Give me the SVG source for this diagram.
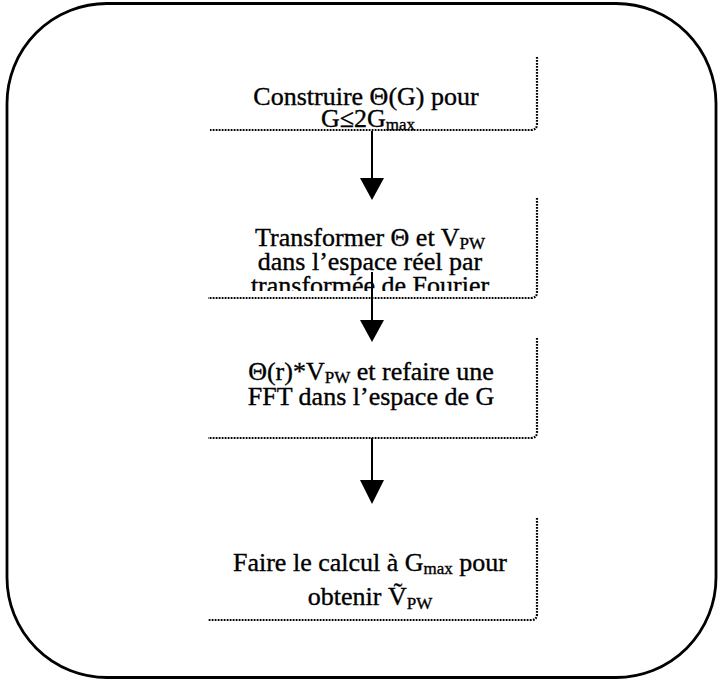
<svg xmlns="http://www.w3.org/2000/svg" width="718" height="681" viewBox="0 0 718 681">
<style>
.frame{fill:none;stroke:#000;stroke-width:2.8}
.box{fill:none;stroke:#000;stroke-width:2.2;stroke-dasharray:1.8 1.2}
.t{font-family:'Liberation Serif','Times New Roman',Times,serif;font-size:26px;fill:#000;stroke:#000;stroke-width:0.35;text-anchor:middle}
.sub{font-size:17px}
.ln{stroke:#000;stroke-width:2}
.hd{fill:#000}
</style>
<defs>
<clipPath id="c2"><rect x="200" y="190" width="345" height="101"/></clipPath>
</defs>
<rect class="frame" x="7" y="3.5" width="709" height="674" rx="100" ry="100"/>
<g id="node1">
<path class="box" d="M537 57 V124 Q537 130 531 130 H210"/>
<text class="t" font-family="Liberation Serif, serif" x="366" y="105">Construire Θ(G) pour</text>
<text class="t" font-family="Liberation Serif, serif" x="368" y="127">G≤2G<tspan class="sub" dy="3">max</tspan></text>
</g>
<g id="node2">
<path class="box" d="M537 198 V292 Q537 298 531 298 H208"/>
<g clip-path="url(#c2)">
<text class="t" font-family="Liberation Serif, serif" x="370" y="246">Transformer Θ et V<tspan class="sub" dy="3">PW</tspan></text>
<text class="t" font-family="Liberation Serif, serif" x="370" y="270">dans l’espace réel par</text>
<text class="t" font-family="Liberation Serif, serif" x="370" y="294">transformée de Fourier</text>
</g>
</g>
<g id="node3">
<path class="box" d="M537 338 V432 Q537 438 531 438 H208"/>
<text class="t" font-family="Liberation Serif, serif" x="371" y="380">Θ(r)*V<tspan class="sub" dy="3">PW</tspan><tspan dy="-3"> et  refaire une</tspan></text>
<text class="t" font-family="Liberation Serif, serif" x="371" y="405">FFT dans l’espace de  G</text>
</g>
<g id="node4">
<path class="box" d="M537 518 V614 Q537 620 531 620 H208"/>
<text class="t" font-family="Liberation Serif, serif" x="370" y="571">Faire le calcul à G<tspan class="sub" dy="3">max</tspan><tspan dy="-3"> pour</tspan></text>
<text class="t" font-family="Liberation Serif, serif" x="370" y="605">obtenir  Ṽ<tspan class="sub" dy="4">PW</tspan></text>
</g>
<g id="connectors">
<line class="ln" x1="372" y1="131" x2="372" y2="180"/>
<polygon class="hd" points="360,178 384,178 372,200"/>
<line class="ln" x1="372" y1="272" x2="372" y2="322"/>
<polygon class="hd" points="360,320 384,320 372,342"/>
<line class="ln" x1="372" y1="438" x2="372" y2="482"/>
<polygon class="hd" points="360,480 384,480 372,504"/>
</g>
</svg>
